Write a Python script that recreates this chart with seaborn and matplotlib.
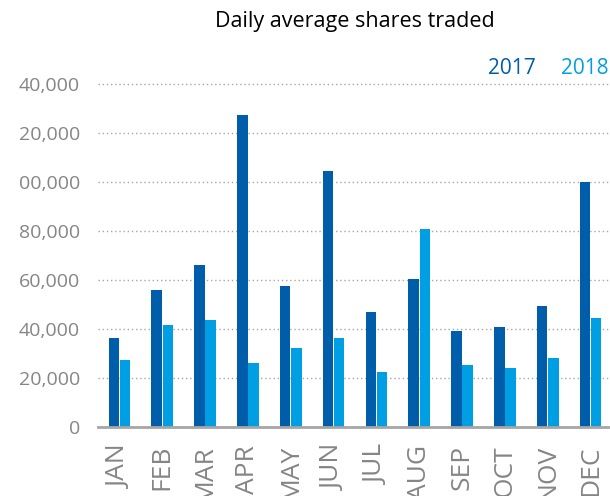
import numpy as np
import pandas as pd
import matplotlib
matplotlib.use("Agg")
import matplotlib.pyplot as plt
import seaborn as sns

# data
months = ["JAN", "FEB", "MAR", "APR", "MAY", "JUN", "JUL", "AUG", "SEP", "OCT", "NOV", "DEC"]
shares_2017 = [36500, 56000, 66200, 127500, 57700, 104800, 47000, 60500, 39300, 40900, 49500, 100300]
shares_2018 = [27300, 41700, 43800, 26200, 32300, 36400, 22500, 81000, 25300, 24100, 28200, 44600]
years = ["2017", "2018"]
y_ticks = [0, 20000, 40000, 60000, 80000, 100000, 120000, 140000]
# labels as they appear (left edge of the original was cut off)
y_tick_labels = ["0", "20,000", "40,000", "60,000", "80,000", "00,000", "20,000", "40,000"]

df = pd.DataFrame({
    "month": months * 2,
    "shares": shares_2017 + shares_2018,
    "year": [years[0]] * 12 + [years[1]] * 12,
})

sns.set_style("white")
plt.rcParams["font.family"] = ["Open Sans", "DejaVu Sans"]

colors = {"2017": "#005DAA", "2018": "#009FE3"}
grey = "#858585"

fig = plt.figure(figsize=(6.1, 4.96), dpi=100)
ax = fig.add_axes([98 / 610, 69 / 496, 514 / 610, 367 / 496])

sns.barplot(data=df, x="month", y="shares", hue="year", palette=colors,
            width=0.52, gap=0.06, ax=ax, legend=False, saturation=1,
            linewidth=0)

ax.set_xlim(-0.5, 11.5)
ax.set_ylim(0, 150000)
ax.set_yticks(y_ticks)
ax.set_yticklabels(y_tick_labels)
ax.yaxis.grid(True, linestyle=(0, (1, 2)), color="#A6A6A6", linewidth=1)
ax.set_axisbelow(True)

ax.tick_params(axis="y", length=0, pad=13, labelsize=14, labelcolor=grey)
ax.tick_params(axis="x", length=0, pad=13, labelsize=19, labelcolor=grey)
for lbl in ax.get_xticklabels():
    lbl.set_rotation(90)
    lbl.set_va("top")
    lbl.set_ha("center")

for side in ["top", "right", "left"]:
    ax.spines[side].set_visible(False)
ax.spines["bottom"].set_color("#A6A6A6")
ax.spines["bottom"].set_linewidth(2)

ax.set_xlabel("")
ax.set_ylabel("")

fig.text(355 / 610, 1 - 22 / 496, "Daily average shares traded",
         ha="center", va="center", fontsize=15.5, color="black")

# year legend as coloured text
fig.text(512 / 610, 1 - 69 / 496, years[0], ha="center", va="center",
         fontsize=15, color=colors["2017"])
fig.text(585 / 610, 1 - 69 / 496, years[1], ha="center", va="center",
         fontsize=15, color=colors["2018"])

plt.savefig("out.png", dpi=100)
